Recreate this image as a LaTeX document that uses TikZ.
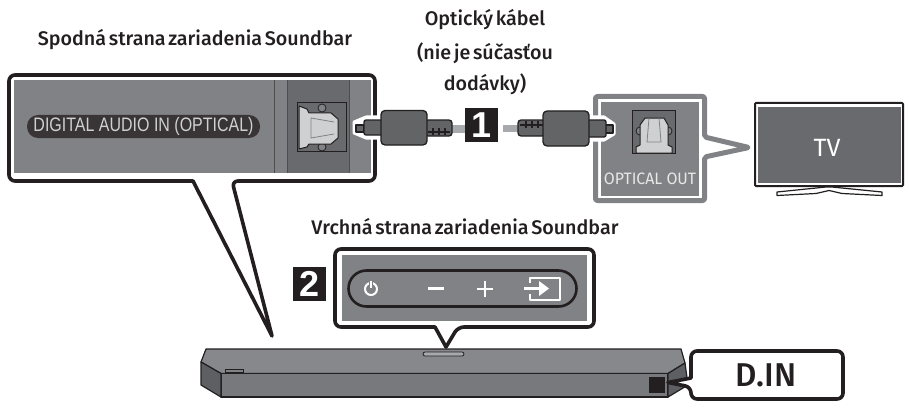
\documentclass[tikz,border=0pt]{standalone}
\usepackage{fontspec}
\setmainfont{Fira Sans}[BoldFont={Fira Sans Medium},BoldFeatures={WordSpace=0.55}]
\newfontfamily\arialf{Liberation Sans}
\newfontfamily\arialn{Liberation Sans}[FakeStretch=0.82]
\definecolor{panel}{HTML}{808285}
\definecolor{darkp}{HTML}{696A6D}
\definecolor{ink}{HTML}{231F20}
\definecolor{lite}{HTML}{CFD0D1}
\definecolor{plug}{HTML}{636466}
\definecolor{cable}{HTML}{A7A9AC}
\tikzset{
  heading/.style={font=\bfseries\fontsize{19.7}{24}\selectfont,text=ink,inner sep=0pt,anchor=base},
  calloutline/.style={draw=ink,line width=3.6pt,line join=round,fill=white},
  plugpart/.style={draw=ink,line width=1.3pt,fill=plug,line join=round},
  badge/.style={fill=ink,text=white,minimum width=33pt,minimum height=34pt,inner sep=0pt,font=\arialf\bfseries\fontsize{36}{36}\selectfont},
  barface/.style={draw=ink,line width=1.2pt,line join=round},
  iconw/.style={draw=white,line width=2.8pt},
}
\begin{document}
\begin{tikzpicture}[x=1pt,y=-1pt]
\useasboundingbox (0,0) rectangle (909,409);
% headings
\node[heading] (h1) at (195,45.5) {Spodná strana zariadenia Soundbar};
\node[heading] (h2) at (485,25.5) {Optický kábel};
\node[heading] (h3) at (485,59.5) {(nie je súčasťou};
\node[heading] (h4) at (485,91) {dodávky)};
\node[heading] (h5) at (465,234) {Vrchná strana zariadenia Soundbar};
% bar
\fill[barface,fill=panel!95!white] (201,362) -- (206,349) -- (681,349) -- (685,363) -- (668,373.5) -- (221,373.5) -- cycle;
\fill[barface,fill=darkp!90!white] (221,373.5) -- (668,373.5) -- (668,397) -- (221,397) -- cycle;
\fill[barface,fill=darkp!90!black] (201,362) -- (221,373.5) -- (221,397) -- (201,385) -- cycle;
\fill[barface,fill=darkp!90!black] (668,373.5) -- (685,363) -- (688,385) -- (668,397) -- cycle;
\draw[draw=ink,line width=.8pt,fill=cable,rounded corners=2pt] (423,352) rectangle (464,356);
\draw[draw=ink,line width=.7pt,fill=panel] (225,369.5) rectangle (243,372.5);
\fill[ink] (649,377) rectangle (665,393);
% left callout tail + box
\draw[calloutline,rounded corners=6pt] (9,75) -- (375,75) -- (375,181) -- (232,181) [sharp corners] -- (272,336) -- (193,181) [rounded corners=6pt] -- (9,181) -- cycle;
\fill[panel] (14,80) rectangle (371,173);
\fill[darkp] (287,80) rectangle (349,173);
\draw[ink!80,line width=1pt] (274,80) -- (274,173) (287,80) -- (287,173) (349,80) -- (349,173);
\node[fill=ink!90,rounded corners=11pt,minimum width=233pt,minimum height=23pt,inner sep=0pt,text=lite,font=\arialn\fontsize{19.5}{19.5}\selectfont] (lab1) at (143.5,126.5) {DIGITAL AUDIO IN (OPTICAL)};
% left port
\draw[ink,line width=1pt,fill=darkp] (297,103) rectangle (346,151);
\draw[ink,line width=.8pt,fill=panel] (322,108) circle[radius=4] (322,147) circle[radius=4];
\draw[ink,line width=1pt,fill=lite,line join=round] (299,106) -- (307,109) -- (309,113) -- (331,113) -- (338,119) -- (338,138) -- (331,144) -- (309,144) -- (307,147) -- (299,149) -- cycle;
\draw[panel,line width=.8pt] (334,122) -- (311,118) -- (311,138) -- (334,134);
% left plug
\draw[white,line width=3pt,fill=white,line join=round] (354,122) -- (366,117) -- (381,117) -- (381,138) -- (366,138) -- (354,133) -- cycle;
\draw[plugpart] (356,125) -- (364,125) -- (364,132) -- (356,132) -- cycle;
\fill[cable] (450,125) rectangle (465,133);
\draw[plugpart,rounded corners=2pt] (364,120) rectangle (384,135);
\draw[plugpart,rounded corners=3pt] (425,120) rectangle (452,136);
\draw[ink,line width=1.3pt] (433,128) -- (433,135) (439,128) -- (439,135) (445,128) -- (445,135) (428,132) -- (450,132);
\draw[plugpart,rounded corners=4pt] (381,110.5) rectangle (427,145);
% badge 1
\node[badge] (b1) at (481.5,125) {1};
% right plug
\fill[cable] (503,124.5) rectangle (520,132);
\draw[plugpart,rounded corners=3pt] (518,120) rectangle (545,136);
\draw[ink,line width=1.3pt] (526,121) -- (526,128) (532,121) -- (532,128) (538,121) -- (538,128) (520,125) -- (543,125);
% optical out
\draw[draw=panel,line width=5pt,fill=white,line join=round,rounded corners=2pt] (595.5,96.5) -- (704.5,96.5) -- (704.5,137) -- (749,147.5) -- (704.5,157) -- (704.5,200.5) -- (595.5,200.5) -- cycle;
\fill[panel] (601,102) rectangle (699,196);
\draw[white,line width=3pt,fill=white,line join=round] (587,117) -- (604,117) -- (614,124) -- (614,134) -- (604,140) -- (587,140) -- cycle;
\draw[plugpart] (604,125) -- (613,125) -- (613,133) -- (604,133) -- cycle;
\draw[plugpart,rounded corners=2pt] (586,120) rectangle (606,137);
\draw[plugpart,rounded corners=4pt] (543,111) rectangle (589,146);
\draw[ink,line width=1pt,fill=darkp] (632,111) rectangle (675,153);
\draw[ink,line width=.8pt,fill=panel] (640,131) circle[radius=4] (668,131) circle[radius=4];
\draw[ink,line width=1pt,fill=lite,line join=round] (636,153) -- (636,147) -- (640,145) -- (640,125) -- (645,118) -- (664,118) -- (668,125) -- (668,145) -- (672,147) -- (672,153) -- cycle;
\draw[panel,line width=.8pt] (649,118) -- (647,142) -- (661,142) -- (659,118);
\node[text=lite!50!white,inner sep=0pt,font=\fontsize{16.5}{16.5}\selectfont] (oo) at (650,178.5) {\addfontfeature{FakeStretch=0.96}OPTICAL OUT};
% TV
\draw[ink,line width=2pt,fill=white,rounded corners=1pt] (755,103) rectangle (903,186);
\fill[darkp] (758,107) rectangle (900.5,183);
\node[text=white,inner sep=0pt,font=\fontsize{25}{25}\selectfont] (tv) at (827,148) {TV};
\draw[ink,line width=1.2pt,fill=white,line join=round] (826,187) -- (777,192) -- (777,195.5) -- (816,193.5) -- (829,190.5) -- (842,193.5) -- (882,195.5) -- (882,192) -- (832,187) -- cycle;
% top panel callout
\draw[calloutline,rounded corners=6pt] (335,249) -- (594,249) -- (594,327) -- (458,327) [sharp corners] -- (446,347) -- (435,327) [rounded corners=6pt] -- (335,327) -- cycle;
\fill[panel] (342,255) rectangle (587,321);
\draw[ink,line width=2.6pt,rounded corners=18pt] (348.5,270.5) rectangle (576.5,306.5);
\draw[white,line width=2pt] (371,289) circle[radius=6];
\draw[panel,line width=4.5pt] (371,280) -- (371,287);
\draw[white,line width=1.8pt] (371,281) -- (371,288);
\draw[iconw] (428,288.5) -- (444,288.5);
\draw[iconw] (477,289) -- (493,289) (485,281) -- (485,297);
\draw[iconw,line join=round] (530,283) -- (530,278) -- (560,278) -- (560,300) -- (530,300) -- (530,294);
\draw[white,line width=3.4pt] (524,288.5) -- (541,288.5);
\fill[white] (539,281) -- (549,288.5) -- (539,296) -- cycle;
\node[badge] (b2) at (309.5,284) {2};
% D.IN callout
\draw[calloutline,rounded corners=6pt] (691,351) -- (843,351) -- (843,399) -- (691,399) -- (691,387) [sharp corners] -- (668,382.5) -- (691,378) [rounded corners=6pt] -- cycle;
\node[text=ink,inner sep=0pt,font=\bfseries\fontsize{33}{33}\selectfont] (din) at (766,375) {D.IN};
\end{tikzpicture}
\end{document}
